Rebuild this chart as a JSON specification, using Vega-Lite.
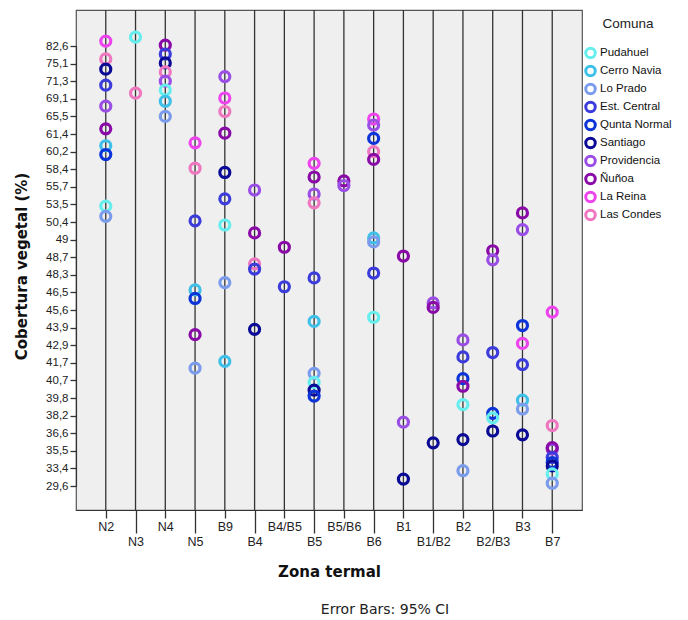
{
  "$schema": "https://vega.github.io/schema/vega-lite/v6.json",
  "width": 506,
  "height": 500,
  "autosize": {"type": "none"},
  "padding": {"left": 76, "top": 10, "right": 106, "bottom": 110},
  "background": "white",
  "title": {"text": "Error Bars: 95% CI", "orient": "bottom", "anchor": "middle", "dx": 56, "offset": 23, "font": "DejaVu Sans", "fontSize": 14, "fontWeight": "normal", "color": "#222"},
  "config": {
    "view": {"fill": "#efefef", "stroke": "#555", "strokeWidth": 1.2},
    "font": "Liberation Sans"
  },
  "datasets": {
    "zonas": [
      {"zona": "N2"}, {"zona": "N3"}, {"zona": "N4"}, {"zona": "N5"}, {"zona": "B9"}, {"zona": "B4"}, {"zona": "B4/B5"}, {"zona": "B5"},
      {"zona": "B5/B6"}, {"zona": "B6"}, {"zona": "B1"}, {"zona": "B1/B2"}, {"zona": "B2"}, {"zona": "B2/B3"}, {"zona": "B3"}, {"zona": "B7"}
    ],
    "puntos": [
      {"zona": "N2", "comuna": "La Reina", "cobertura": 84.7},
      {"zona": "N2", "comuna": "Las Condes", "cobertura": 77.1},
      {"zona": "N2", "comuna": "Santiago", "cobertura": 73.9},
      {"zona": "N2", "comuna": "Est. Central", "cobertura": 70.8},
      {"zona": "N2", "comuna": "Providencia", "cobertura": 67.6},
      {"zona": "N2", "comuna": "Ñuñoa", "cobertura": 62.6},
      {"zona": "N2", "comuna": "Cerro Navia", "cobertura": 60.6},
      {"zona": "N2", "comuna": "Qunta Normal", "cobertura": 59.9},
      {"zona": "N2", "comuna": "Pudahuel", "cobertura": 53.2},
      {"zona": "N2", "comuna": "Lo Prado", "cobertura": 51.4},
      {"zona": "N3", "comuna": "Pudahuel", "cobertura": 86.4},
      {"zona": "N3", "comuna": "Las Condes", "cobertura": 69.8},
      {"zona": "N4", "comuna": "Ñuñoa", "cobertura": 83.0},
      {"zona": "N4", "comuna": "Est. Central", "cobertura": 79.2},
      {"zona": "N4", "comuna": "Santiago", "cobertura": 75.4},
      {"zona": "N4", "comuna": "Las Condes", "cobertura": 73.3},
      {"zona": "N4", "comuna": "Providencia", "cobertura": 71.3},
      {"zona": "N4", "comuna": "Pudahuel", "cobertura": 70.2},
      {"zona": "N4", "comuna": "Cerro Navia", "cobertura": 68.6},
      {"zona": "N4", "comuna": "Lo Prado", "cobertura": 65.5},
      {"zona": "N5", "comuna": "La Reina", "cobertura": 60.8},
      {"zona": "N5", "comuna": "Las Condes", "cobertura": 58.5},
      {"zona": "N5", "comuna": "Est. Central", "cobertura": 50.6},
      {"zona": "N5", "comuna": "Cerro Navia", "cobertura": 46.75},
      {"zona": "N5", "comuna": "Qunta Normal", "cobertura": 46.19},
      {"zona": "N5", "comuna": "Ñuñoa", "cobertura": 43.5},
      {"zona": "N5", "comuna": "Lo Prado", "cobertura": 41.4},
      {"zona": "B9", "comuna": "Providencia", "cobertura": 72.3},
      {"zona": "B9", "comuna": "La Reina", "cobertura": 69.2},
      {"zona": "B9", "comuna": "Las Condes", "cobertura": 66.5},
      {"zona": "B9", "comuna": "Ñuñoa", "cobertura": 61.6},
      {"zona": "B9", "comuna": "Santiago", "cobertura": 57.9},
      {"zona": "B9", "comuna": "Est. Central", "cobertura": 54.2},
      {"zona": "B9", "comuna": "Pudahuel", "cobertura": 50.16},
      {"zona": "B9", "comuna": "Lo Prado", "cobertura": 47.5},
      {"zona": "B9", "comuna": "Cerro Navia", "cobertura": 41.8},
      {"zona": "B4", "comuna": "Providencia", "cobertura": 55.3},
      {"zona": "B4", "comuna": "Ñuñoa", "cobertura": 49.53},
      {"zona": "B4", "comuna": "Las Condes", "cobertura": 48.55},
      {"zona": "B4", "comuna": "Est. Central", "cobertura": 48.43},
      {"zona": "B4", "comuna": "Santiago", "cobertura": 43.8},
      {"zona": "B4/B5", "comuna": "Ñuñoa", "cobertura": 48.87},
      {"zona": "B4/B5", "comuna": "Est. Central", "cobertura": 47.08},
      {"zona": "B5", "comuna": "La Reina", "cobertura": 59.0},
      {"zona": "B5", "comuna": "Ñuñoa", "cobertura": 57.2},
      {"zona": "B5", "comuna": "Providencia", "cobertura": 54.8},
      {"zona": "B5", "comuna": "Las Condes", "cobertura": 53.7},
      {"zona": "B5", "comuna": "Est. Central", "cobertura": 47.98},
      {"zona": "B5", "comuna": "Cerro Navia", "cobertura": 44.5},
      {"zona": "B5", "comuna": "Lo Prado", "cobertura": 41.1},
      {"zona": "B5", "comuna": "Pudahuel", "cobertura": 40.6},
      {"zona": "B5", "comuna": "Santiago", "cobertura": 40.2},
      {"zona": "B5", "comuna": "Qunta Normal", "cobertura": 39.9},
      {"zona": "B5/B6", "comuna": "Ñuñoa", "cobertura": 56.6},
      {"zona": "B5/B6", "comuna": "Providencia", "cobertura": 55.9},
      {"zona": "B6", "comuna": "La Reina", "cobertura": 64.9},
      {"zona": "B6", "comuna": "Providencia", "cobertura": 63.5},
      {"zona": "B6", "comuna": "Qunta Normal", "cobertura": 61.1},
      {"zona": "B6", "comuna": "Las Condes", "cobertura": 60.2},
      {"zona": "B6", "comuna": "Ñuñoa", "cobertura": 59.4},
      {"zona": "B6", "comuna": "Cerro Navia", "cobertura": 49.13},
      {"zona": "B6", "comuna": "Lo Prado", "cobertura": 48.96},
      {"zona": "B6", "comuna": "Est. Central", "cobertura": 48.34},
      {"zona": "B6", "comuna": "Pudahuel", "cobertura": 44.9},
      {"zona": "B1", "comuna": "Ñuñoa", "cobertura": 48.72},
      {"zona": "B1", "comuna": "Providencia", "cobertura": 37.6},
      {"zona": "B1", "comuna": "Santiago", "cobertura": 31.1},
      {"zona": "B1/B2", "comuna": "Providencia", "cobertura": 45.96},
      {"zona": "B1/B2", "comuna": "Ñuñoa", "cobertura": 45.73},
      {"zona": "B1/B2", "comuna": "Santiago", "cobertura": 36.0},
      {"zona": "B2", "comuna": "Providencia", "cobertura": 43.2},
      {"zona": "B2", "comuna": "Est. Central", "cobertura": 42.1},
      {"zona": "B2", "comuna": "Qunta Normal", "cobertura": 40.8},
      {"zona": "B2", "comuna": "Ñuñoa", "cobertura": 40.4},
      {"zona": "B2", "comuna": "Pudahuel", "cobertura": 39.2},
      {"zona": "B2", "comuna": "Santiago", "cobertura": 36.2},
      {"zona": "B2", "comuna": "Lo Prado", "cobertura": 32.9},
      {"zona": "B2/B3", "comuna": "Ñuñoa", "cobertura": 48.81},
      {"zona": "B2/B3", "comuna": "Providencia", "cobertura": 48.64},
      {"zona": "B2/B3", "comuna": "Est. Central", "cobertura": 42.4},
      {"zona": "B2/B3", "comuna": "Qunta Normal", "cobertura": 38.4},
      {"zona": "B2/B3", "comuna": "Pudahuel", "cobertura": 38.0},
      {"zona": "B2/B3", "comuna": "Santiago", "cobertura": 36.8},
      {"zona": "B3", "comuna": "Ñuñoa", "cobertura": 52.0},
      {"zona": "B3", "comuna": "Providencia", "cobertura": 49.8},
      {"zona": "B3", "comuna": "Qunta Normal", "cobertura": 44.1},
      {"zona": "B3", "comuna": "La Reina", "cobertura": 43.0},
      {"zona": "B3", "comuna": "Est. Central", "cobertura": 41.6},
      {"zona": "B3", "comuna": "Cerro Navia", "cobertura": 39.6},
      {"zona": "B3", "comuna": "Lo Prado", "cobertura": 38.8},
      {"zona": "B3", "comuna": "Santiago", "cobertura": 36.5},
      {"zona": "B7", "comuna": "La Reina", "cobertura": 45.4},
      {"zona": "B7", "comuna": "Las Condes", "cobertura": 37.3},
      {"zona": "B7", "comuna": "Providencia", "cobertura": 35.6},
      {"zona": "B7", "comuna": "Ñuñoa", "cobertura": 35.7},
      {"zona": "B7", "comuna": "Est. Central", "cobertura": 34.7},
      {"zona": "B7", "comuna": "Qunta Normal", "cobertura": 34.1},
      {"zona": "B7", "comuna": "Santiago", "cobertura": 33.7},
      {"zona": "B7", "comuna": "Pudahuel", "cobertura": 32.2},
      {"zona": "B7", "comuna": "Lo Prado", "cobertura": 30.2}
    ]
  },
  "layer": [
    {
      "data": {"name": "zonas"},
      "mark": {"type": "rule", "color": "#333", "strokeWidth": 1.3},
      "encoding": {
        "x": {
          "field": "zona",
          "type": "nominal",
          "scale": {"type": "point", "padding": 1.4, "domain": ["N2", "N3", "N4", "N5", "B9", "B4", "B4/B5", "B5", "B5/B6", "B6", "B1", "B1/B2", "B2", "B2/B3", "B3", "B7"]},
          "axis": {
            "title": "Zona termal",
            "titleFont": "DejaVu Sans",
            "titleFontSize": 15,
            "titleFontWeight": "bold",
            "titleColor": "#111",
            "titlePadding": 17,
            "labelFont": "Liberation Sans",
            "labelFontSize": 12.5,
            "labelColor": "#222",
            "labelAngle": 0,
            "domainColor": "#333",
            "domainWidth": 1.2,
            "tickColor": "#333",
            "tickWidth": 1.3,
            "tickSize": {"condition": {"test": "indexof(['N3','N5','B4','B5','B6','B1/B2','B2/B3','B7'], datum.value) >= 0", "value": 23}, "value": 8},
            "labelPadding": 2,
            "grid": false
          }
        }
      }
    },
    {
      "data": {"name": "puntos"},
      "mark": {"type": "point", "shape": "circle", "filled": false, "size": 100, "strokeWidth": 3.2, "opacity": 1},
      "encoding": {
        "x": {"field": "zona", "type": "nominal"},
        "y": {
          "field": "cobertura",
          "type": "quantitative",
          "scale": {
            "type": "linear",
            "zero": false,
            "nice": false,
            "domain": [29.6, 33.4, 35.5, 36.6, 38.2, 39.8, 40.7, 41.7, 42.9, 43.9, 45.6, 46.5, 48.3, 48.7, 49, 50.4, 53.5, 55.7, 58.4, 60.2, 61.4, 65.5, 69.1, 71.3, 75.1, 82.6],
            "range": [476, 458.4, 440.8, 423.2, 405.6, 388, 370.4, 352.8, 335.2, 317.6, 300, 282.4, 264.8, 247.2, 229.6, 212, 194.4, 176.8, 159.2, 141.6, 124, 106.4, 88.8, 71.2, 53.6, 36]
          },
          "axis": {
            "title": "Cobertura vegetal (%)",
            "titleFont": "DejaVu Sans",
            "titleFontSize": 15,
            "titleFontWeight": "bold",
            "titleColor": "#111",
            "titlePadding": 16,
            "values": [29.6, 33.4, 35.5, 36.6, 38.2, 39.8, 40.7, 41.7, 42.9, 43.9, 45.6, 46.5, 48.3, 48.7, 49, 50.4, 53.5, 55.7, 58.4, 60.2, 61.4, 65.5, 69.1, 71.3, 75.1, 82.6],
            "labelExpr": "replace(format(datum.value, '.1~f'), '.', ',')",
            "labelFont": "Liberation Sans",
            "labelFontSize": 11.5,
            "labelColor": "#222",
            "labelPadding": 2,
            "tickSize": 6,
            "tickColor": "#333",
            "tickWidth": 1.3,
            "domainColor": "#333",
            "domainWidth": 1.2,
            "grid": false
          }
        },
        "color": {
          "field": "comuna",
          "type": "nominal",
          "scale": {
            "domain": ["Pudahuel", "Cerro Navia", "Lo Prado", "Est. Central", "Qunta Normal", "Santiago", "Providencia", "Ñuñoa", "La Reina", "Las Condes"],
            "range": ["#66eeee", "#3fc0e8", "#7b9cec", "#3c3cdc", "#0c34d8", "#0a0a96", "#9a4ee6", "#8a0aa8", "#ee44ee", "#ee77c0"]
          },
          "legend": {
            "title": "Comuna",
            "orient": "none",
            "legendX": 508,
            "legendY": 7,
            "titleFont": "Liberation Sans",
            "titleFontSize": 13.5,
            "titleFontWeight": "normal",
            "titleColor": "#222",
            "titleAnchor": "middle",
            "titlePadding": 16,
            "labelFont": "Liberation Sans",
            "labelFontSize": 11.5,
            "labelColor": "#111",
            "labelOffset": 3,
            "symbolType": "circle",
            "symbolSize": 90,
            "symbolStrokeWidth": 3,
            "symbolFillColor": "transparent",
            "rowPadding": -8.5
          }
        }
      }
    }
  ]
}
